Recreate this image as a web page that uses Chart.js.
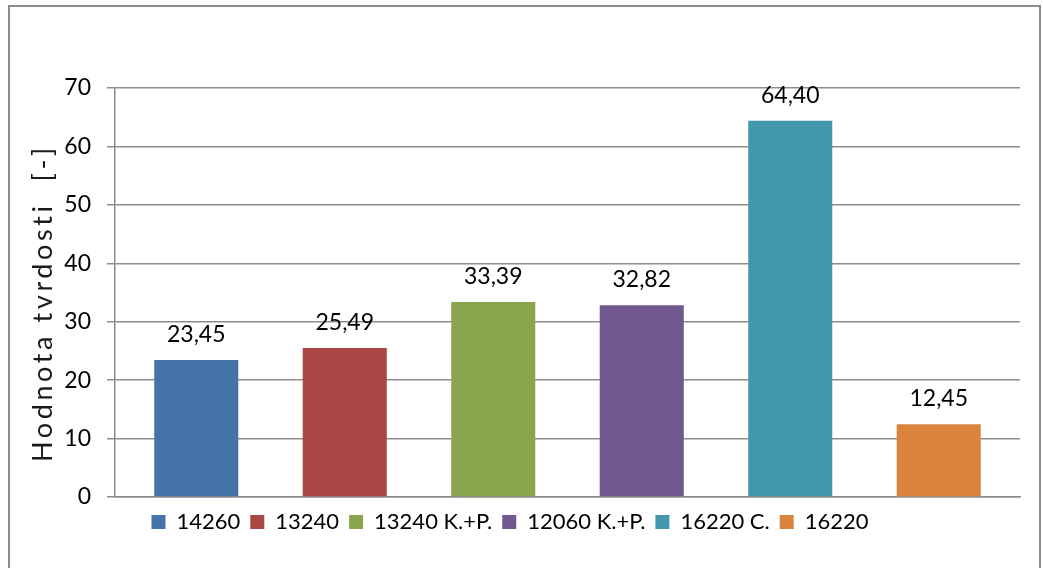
<!DOCTYPE html>
<html>
<head>
<meta charset="utf-8">
<script src="https://cdn.jsdelivr.net/npm/chart.js@4"></script>
<style>
  html, body { margin: 0; padding: 0; background: #fff; }
  #wrap { width: 1043px; height: 568px; position: relative; }
</style>
</head>
<body>
<div id="wrap"><canvas id="tvrdostChart" width="1043" height="568"></canvas></div>
<script>
const series = ['14260', '13240', '13240 K.+P.', '12060 K.+P.', '16220 C.', '16220'];
const values = [23.45, 25.49, 33.39, 32.82, 64.40, 12.45];
const colors = ['#4572A7', '#AA4643', '#89A54E', '#71588F', '#4198AF', '#DB843D'];
const yTicks = [0, 10, 20, 30, 40, 50, 60, 70];
const yTitle = 'Hodnota tvrdosti  [-]';

// ramecek kolem grafu
const framePlugin = {
  id: 'frame',
  beforeDraw(chart) {
    const c = chart.ctx;
    c.save();
    c.fillStyle = '#fff';
    c.fillRect(0, 0, chart.width, chart.height);
    c.strokeStyle = '#8c8c8c';
    c.lineWidth = 2;
    c.strokeRect(9, 6, 1031, 600);
    c.restore();
  }
};

// nazev osy y - proklad pismen jako v Excelu
const axisTitle = {
  id: 'axisTitle',
  afterDraw(chart) {
    const c = chart.ctx;
    c.save();
    c.font = '27px Lato';
    c.fillStyle = '#1a1a1a';
    c.letterSpacing = '3.6px';
    c.textAlign = 'center';
    c.textBaseline = 'middle';
    c.translate(43, 303);
    c.rotate(-Math.PI / 2);
    c.fillText(yTitle, 0, 0);
    c.restore();
  }
};

// popisky hodnot nad sloupci (desetinna carka)
const valueLabels = {
  id: 'valueLabels',
  afterDatasetsDraw(chart) {
    const c = chart.ctx;
    c.save();
    c.font = '23px Lato';
    c.fillStyle = '#000';
    c.textAlign = 'center';
    c.textBaseline = 'alphabetic';
    chart.data.datasets.forEach((ds, i) => {
      const bar = chart.getDatasetMeta(i).data[0];
      c.fillText(ds.data[0].toFixed(2).replace('.', ','), bar.x, bar.y - 18);
    });
    c.restore();
  }
};

const ctx = document.getElementById('tvrdostChart').getContext('2d');
new Chart(ctx, {
  type: 'bar',
  data: {
    labels: [''],
    datasets: series.map((name, i) => ({
      label: name,
      data: [values[i]],
      backgroundColor: colors[i],
      borderWidth: 0,
      categoryPercentage: 0.9845,
      barPercentage: 0.566
    }))
  },
  options: {
    responsive: false,
    animation: false,
    layout: { padding: { top: 88, right: 23, left: 0, bottom: 25 } },
    plugins: {
      legend: {
        position: 'bottom',
        labels: {
          font: { family: 'Lato', size: 22 },
          color: '#000',
          boxWidth: 14,
          boxHeight: 14,
          padding: 10
        }
      },
      tooltip: { enabled: false }
    },
    scales: {
      x: {
        grid: { display: false },
        ticks: { display: false },
        border: { color: '#8c8c8c', width: 1.5 },
        afterFit(s) { s.height = 4; }
      },
      y: {
        min: 0,
        max: 70,
        afterBuildTicks(s) { s.ticks = yTicks.map(v => ({ value: v })); },
        afterFit(s) { s.width = 115; },
        grid: { color: '#8c8c8c', lineWidth: 1.5, tickLength: 8 },
        border: { color: '#8c8c8c', width: 1.5 },
        ticks: { font: { family: 'Lato', size: 23 }, color: '#000', padding: 16 }
      }
    }
  },
  plugins: [framePlugin, axisTitle, valueLabels]
});
</script>
</body>
</html>
